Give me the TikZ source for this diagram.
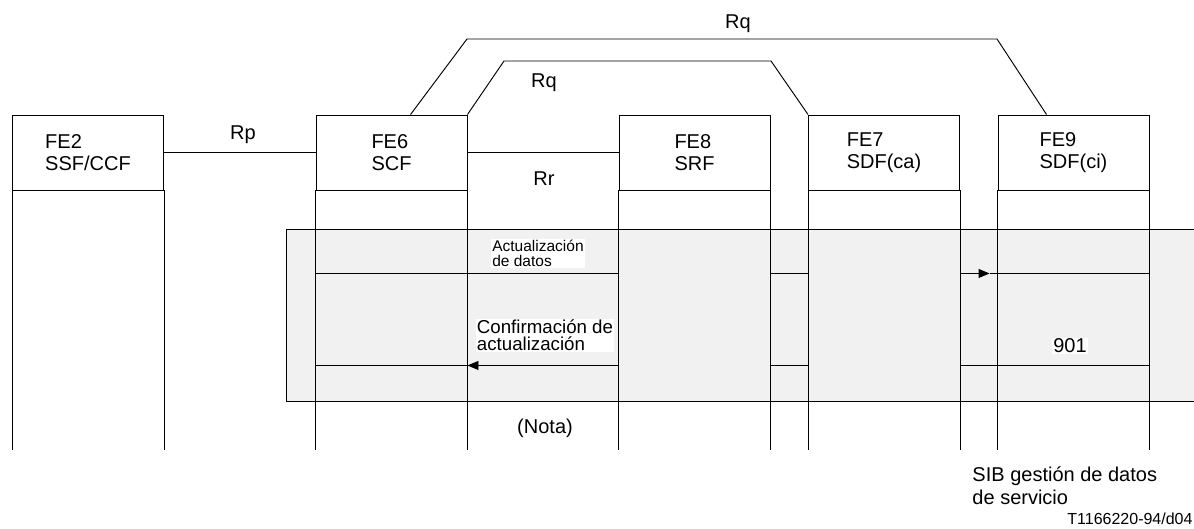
\documentclass[tikz,border=0pt]{standalone}
\usepackage{fontspec}
\setmainfont{Liberation Sans}
\usetikzlibrary{arrows.meta,calc}
\definecolor{shade}{RGB}{241,241,241}
\begin{document}
\begin{tikzpicture}[x=1pt,y=-1pt,line width=0.95pt,
  febox/.style={draw, minimum width=151pt, minimum height=75pt, inner sep=0pt, align=left, font=\fontsize{20}{22}\selectfont},
  lbl/.style={font=\fontsize{20}{22}\selectfont, inner sep=0pt},
  msglbl/.style={fill=white, inner sep=1pt, align=left},
  tipr/.style={-{Triangle[length=11pt,width=9pt]}},
  life/.style={line width=0.95pt}]
\useasboundingbox (0,0) rectangle (1194,528);
% shaded region
\filldraw[fill=shade, draw=black] (286,229) rectangle (1205,401);
% boxes
\node[febox] (fe2) at (88,152.5) {FE2\\SSF/CCF};
\node[febox] (fe6) at (391.5,152.5) {FE6\\SCF};
\node[febox] (fe8) at (694.5,152.5) {FE8\\SRF};
\node[febox] (fe7) at (884,152.5) {FE7\\SDF(ca)};
\node[febox] (fe9) at (1073.5,152.5) {FE9\\SDF(ci)};
% lifelines
\foreach \n in {fe2,fe6,fe8,fe7,fe9}{
  \draw[life] (\n.south west) -- ++(0,260);
  \draw[life] (\n.south east) -- ++(0,260);
}
% relationships
\draw (fe2.east) -- (fe6.west);
\draw (fe6.east) -- (fe8.west);
\node[lbl] (rp) at (243,135) {Rp};
\node[lbl] (rr) at (544,179) {Rr};
\coordinate (qa) at ($(fe6.north west)+(95,0)$);
\coordinate (qb) at ($(fe9.north west)+(49,0)$);
\draw (qa) -- (467,39) -- (997,39) -- (qb);
\draw (fe6.north east) -- (504,61) -- (771,61) -- (fe7.north west);
\node[lbl] (rq1) at (738,24) {Rq};
\node[lbl] (rq2) at (544,83) {Rq};
% message 1
\coordinate (m1a) at ($(fe6.south west)+(0,83)$);
\coordinate (m1b) at ($(fe8.south west)+(0,83)$);
\coordinate (m1c) at ($(fe8.south east)+(0,83)$);
\coordinate (m1d) at ($(fe7.south west)+(0,83)$);
\coordinate (m1e) at ($(fe7.south east)+(0,83)$);
\coordinate (m1t) at ($(fe9.south west)+(-8,83)$);
\coordinate (m1f) at ($(fe9.south east)+(0,83)$);
\draw (m1a) -- (m1b);
\draw (m1c) -- (m1d);
\draw[tipr] (m1e) -- (m1t);
\draw (m1t) -- (m1f);
\node[msglbl, font=\fontsize{15.5}{15.5}\selectfont] (act) at (538,253.5) {Actualización\\de datos};
% message 2
\coordinate (m2a) at ($(fe6.south west)+(0,175)$);
\coordinate (m2t) at ($(fe6.south east)+(0,175)$);
\coordinate (m2b) at ($(fe8.south west)+(0,175)$);
\coordinate (m2c) at ($(fe8.south east)+(0,175)$);
\coordinate (m2d) at ($(fe7.south west)+(0,175)$);
\coordinate (m2e) at ($(fe7.south east)+(0,175)$);
\coordinate (m2f) at ($(fe9.south east)+(0,175)$);
\draw[tipr] (m2b) -- (m2t);
\draw (m2t) -- (m2a);
\draw (m2c) -- (m2d);
\draw (m2e) -- (m2f);
\node[msglbl, font=\fontsize{18.7}{17}\selectfont] (conf) at (545,335.5) {Confirmación de\\actualización};
\node[msglbl, font=\fontsize{20}{22}\selectfont] (n901) at (1070,346) {901};
\node[lbl] (nota) at (545,428) {(Nota)};
\node[lbl, anchor=west, align=left, font=\fontsize{20}{23}\selectfont] (sib) at (972,486) {SIB gestión de datos\\de servicio};
\node[lbl, anchor=east, font=\fontsize{16}{17}\selectfont] (ref) at (1193,519) {T1166220-94/d04};
\end{tikzpicture}
\end{document}
